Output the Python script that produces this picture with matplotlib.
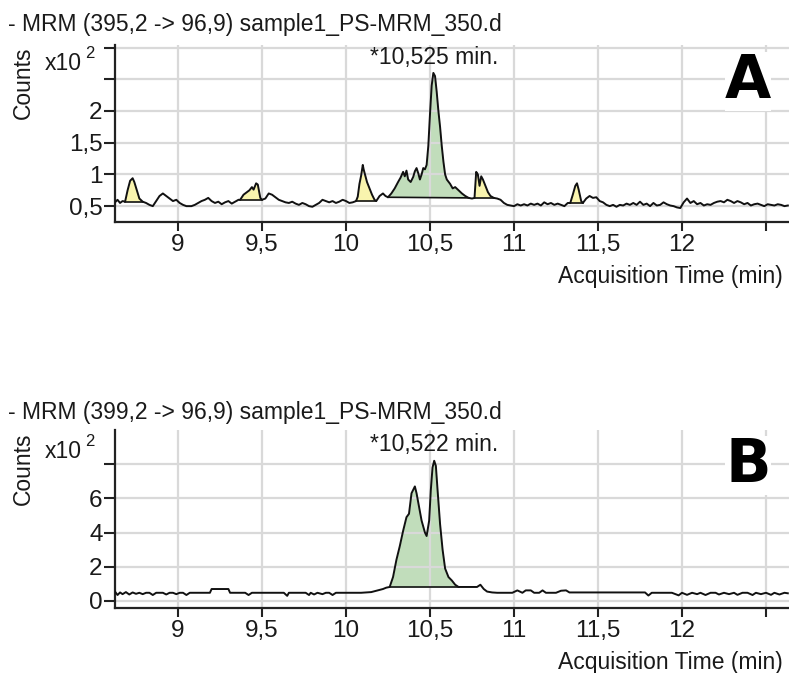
import matplotlib
matplotlib.use("Agg")
import numpy as np
import matplotlib.pyplot as plt

plt.rcParams['font.family'] = ['Liberation Sans', 'DejaVu Sans']

# ---- panel A : MRM 395,2 -> 96,9 (counts x10^2) ----
time_a = [8.625, 8.64, 8.655, 8.67, 8.685, 8.70, 8.715, 8.73, 8.74, 8.755, 8.77, 8.79,
          8.81, 8.83, 8.85, 8.87, 8.89, 8.91, 8.93, 8.95, 8.97, 8.99, 9.01, 9.03, 9.05,
          9.08, 9.10, 9.12, 9.14, 9.16, 9.18, 9.20, 9.22, 9.24, 9.26, 9.28, 9.30, 9.32,
          9.34, 9.36, 9.37, 9.39, 9.41, 9.425, 9.44, 9.45, 9.465, 9.475, 9.49, 9.50,
          9.52, 9.54, 9.56, 9.58, 9.60, 9.62, 9.64, 9.66, 9.68, 9.70, 9.72, 9.74, 9.76,
          9.78, 9.80, 9.82, 9.84, 9.86, 9.88, 9.90, 9.92, 9.94, 9.96, 9.98, 10.00, 10.02,
          10.04, 10.06, 10.07, 10.08, 10.09, 10.10, 10.105, 10.115, 10.125, 10.14, 10.155,
          10.17, 10.18, 10.20, 10.22, 10.235, 10.25, 10.27, 10.29, 10.31, 10.325, 10.34,
          10.35, 10.36, 10.37, 10.385, 10.40, 10.41, 10.42, 10.43, 10.44, 10.45, 10.46,
          10.47, 10.48, 10.49, 10.50, 10.51, 10.52, 10.53, 10.54, 10.55, 10.56, 10.57,
          10.58, 10.59, 10.60, 10.62, 10.635, 10.65, 10.67, 10.69, 10.71, 10.73, 10.75,
          10.765, 10.775, 10.785, 10.795, 10.805, 10.815, 10.83, 10.845, 10.86, 10.88,
          10.90, 10.92, 10.94, 10.96, 10.98, 11.00, 11.02, 11.04, 11.06, 11.08, 11.10,
          11.12, 11.14, 11.16, 11.18, 11.20, 11.22, 11.24, 11.26, 11.28, 11.30, 11.32,
          11.335, 11.35, 11.365, 11.375, 11.385, 11.40, 11.41, 11.43, 11.45, 11.47, 11.49,
          11.51, 11.53, 11.55, 11.57, 11.59, 11.61, 11.63, 11.65, 11.67, 11.69, 11.71,
          11.73, 11.75, 11.77, 11.79, 11.81, 11.83, 11.85, 11.87, 11.89, 11.91, 11.93,
          11.95, 11.97, 11.99, 12.01, 12.03, 12.05, 12.07, 12.09, 12.11, 12.13, 12.15,
          12.17, 12.19, 12.21, 12.23, 12.25, 12.27, 12.29, 12.31, 12.33, 12.35, 12.37,
          12.39, 12.41, 12.43, 12.45, 12.47, 12.49, 12.51, 12.53, 12.55, 12.57, 12.59,
          12.61, 12.63]
counts_a = [0.56, 0.60, 0.55, 0.58, 0.57, 0.75, 0.90, 0.94, 0.88, 0.75, 0.62, 0.57,
            0.55, 0.52, 0.50, 0.58, 0.66, 0.70, 0.66, 0.62, 0.58, 0.60, 0.55, 0.52, 0.50,
            0.50, 0.52, 0.55, 0.58, 0.60, 0.63, 0.58, 0.55, 0.57, 0.53, 0.56, 0.58, 0.54,
            0.57, 0.60, 0.60, 0.68, 0.72, 0.75, 0.80, 0.76, 0.86, 0.84, 0.63, 0.60,
            0.62, 0.70, 0.68, 0.64, 0.60, 0.58, 0.56, 0.55, 0.57, 0.54, 0.52, 0.55, 0.53,
            0.50, 0.49, 0.52, 0.55, 0.60, 0.58, 0.56, 0.58, 0.55, 0.57, 0.60, 0.58, 0.55,
            0.56, 0.58, 0.65, 0.85, 0.98, 1.15, 1.08, 0.98, 0.88, 0.78, 0.68,
            0.60, 0.58, 0.66, 0.70, 0.66, 0.64, 0.70, 0.78, 0.88, 0.95, 1.04,
            0.97, 1.06, 0.92, 0.88, 0.96, 1.05, 1.10, 1.02, 0.92, 1.00, 1.10,
            1.08, 1.15, 1.45, 1.95, 2.40, 2.60, 2.55, 2.30, 2.00, 1.75, 1.45,
            1.20, 1.00, 0.92, 0.85, 0.78, 0.80, 0.75, 0.70, 0.66, 0.63, 0.62,
            0.63, 1.04, 1.00, 0.82, 0.97, 0.92, 0.82, 0.72, 0.66, 0.63,
            0.62, 0.60, 0.55, 0.52, 0.51, 0.50, 0.53, 0.51, 0.53, 0.51, 0.54,
            0.52, 0.54, 0.51, 0.56, 0.53, 0.55, 0.52, 0.54, 0.52, 0.50, 0.55,
            0.55, 0.68, 0.82, 0.86, 0.76, 0.58, 0.55, 0.62, 0.66, 0.63, 0.64,
            0.58, 0.56, 0.52, 0.50, 0.52, 0.49, 0.52, 0.51, 0.54, 0.52, 0.55,
            0.52, 0.57, 0.52, 0.54, 0.50, 0.55, 0.51, 0.52, 0.56, 0.53, 0.51,
            0.50, 0.48, 0.47, 0.56, 0.62, 0.55, 0.58, 0.53, 0.55, 0.51, 0.53,
            0.52, 0.55, 0.57, 0.58, 0.56, 0.60, 0.58, 0.55, 0.58, 0.56, 0.53,
            0.55, 0.51, 0.53, 0.54, 0.52, 0.50, 0.53, 0.52, 0.51, 0.53, 0.52,
            0.50, 0.51]
# integrated peaks: (start, end, kind)
peaks_a = [(8.685, 8.79, 'minor'), (9.37, 9.50, 'minor'), (10.06, 10.18, 'minor'),
           (10.25, 10.73, 'main'), (10.765, 10.88, 'minor'), (11.335, 11.41, 'minor')]
label_a = "- MRM (395,2 -> 96,9) sample1_PS-MRM_350.d"
rt_a = 10.525
yticks_a = [0.5, 1, 1.5, 2, 2.5, 3]
yticklabels_a = ['0,5', '1', '1,5', '2', '', '']

# ---- panel B : MRM 399,2 -> 96,9 (counts x10^2) ----
time_b = [8.625, 8.64, 8.655, 8.67, 8.69, 8.71, 8.73, 8.75, 8.77, 8.79, 8.81, 8.83,
          8.85, 8.87, 8.89, 8.91, 8.93, 8.95, 8.97, 8.99, 9.01, 9.03, 9.05, 9.07, 9.09,
          9.11, 9.13, 9.15, 9.17, 9.19, 9.20, 9.23, 9.26, 9.30, 9.31, 9.35, 9.38, 9.40,
          9.42, 9.44, 9.47, 9.50, 9.53, 9.56, 9.60, 9.63, 9.65, 9.66, 9.70, 9.73, 9.76,
          9.78, 9.79, 9.81, 9.83, 9.86, 9.88, 9.90, 9.92, 9.94, 9.97, 10.00, 10.03,
          10.06, 10.09, 10.12, 10.15, 10.18, 10.20, 10.22, 10.24, 10.26, 10.28, 10.30,
          10.32, 10.34, 10.36, 10.375, 10.39, 10.41, 10.42, 10.435, 10.45, 10.47, 10.48,
          10.495, 10.505, 10.515, 10.525, 10.535, 10.545, 10.56, 10.575, 10.59, 10.61,
          10.63, 10.65, 10.67, 10.70, 10.73, 10.76, 10.78, 10.80, 10.82, 10.84, 10.87,
          10.90, 10.93, 10.96, 10.99, 11.02, 11.05, 11.07, 11.10, 11.12, 11.15, 11.17,
          11.19, 11.22, 11.25, 11.28, 11.31, 11.33, 11.37, 11.41, 11.45, 11.50, 11.55,
          11.60, 11.65, 11.70, 11.75, 11.78, 11.80, 11.82, 11.86, 11.90, 11.94, 11.98,
          12.00, 12.03, 12.06, 12.09, 12.11, 12.14, 12.17, 12.20, 12.22, 12.25, 12.28,
          12.31, 12.33, 12.36, 12.39, 12.42, 12.44, 12.47, 12.50, 12.53, 12.55, 12.58,
          12.61, 12.63]
counts_b = [0.55, 0.35, 0.50, 0.40, 0.52, 0.38, 0.50, 0.42, 0.48, 0.40, 0.48, 0.48,
            0.35, 0.48, 0.48, 0.48, 0.38, 0.48, 0.48, 0.40, 0.48, 0.48, 0.35, 0.48, 0.48,
            0.48, 0.48, 0.48, 0.48, 0.48, 0.70, 0.70, 0.70, 0.70, 0.48, 0.48, 0.48, 0.48,
            0.35, 0.48, 0.48, 0.48, 0.48, 0.48, 0.48, 0.48, 0.30, 0.48, 0.48, 0.48, 0.48,
            0.35, 0.48, 0.38, 0.48, 0.40, 0.48, 0.48, 0.35, 0.48, 0.48, 0.48, 0.48,
            0.48, 0.48, 0.50, 0.52, 0.60, 0.65, 0.70, 0.78, 0.82, 1.40, 2.40,
            3.20, 4.10, 4.90, 5.10, 6.30, 6.70, 6.30, 5.50, 4.70, 4.00, 3.80,
            4.70, 6.50, 7.80, 8.20, 7.90, 6.50, 4.50, 3.00, 1.90, 1.40,
            1.20, 0.95, 0.82, 0.82, 0.82, 0.82, 0.82, 0.95, 0.70, 0.55, 0.50,
            0.48, 0.48, 0.48, 0.48, 0.62, 0.48, 0.62, 0.62, 0.48, 0.48, 0.62,
            0.48, 0.48, 0.48, 0.60, 0.62, 0.50, 0.50, 0.50, 0.50, 0.50, 0.50,
            0.50, 0.50, 0.50, 0.50, 0.50, 0.32, 0.48, 0.48, 0.48, 0.48, 0.33,
            0.48, 0.36, 0.48, 0.40, 0.48, 0.35, 0.48, 0.48, 0.38, 0.48, 0.40,
            0.48, 0.36, 0.48, 0.48, 0.35, 0.48, 0.40, 0.48, 0.36, 0.48, 0.38,
            0.48, 0.45]
peaks_b = [(10.26, 10.67, 'main')]
label_b = "- MRM (399,2 -> 96,9) sample1_PS-MRM_350.d"
rt_b = 10.522
yticks_b = [0, 2, 4, 6, 8]
yticklabels_b = ['0', '2', '4', '6', '']

xticks = [9, 9.5, 10, 10.5, 11, 11.5, 12, 12.5]
xticklabels = ['9', '9,5', '10', '10,5', '11', '11,5', '12', '']

FILL = {'main': '#b6d8b0', 'minor': '#f8f3a0'}
TXT = '#1a1a1a'
W, H = 789, 673


def draw_panel(fig, box, t, c, peaks, title, rt, ylim, yticks, yticklabels, letter, px):
    ax = fig.add_axes(box)
    t = np.array(t)
    c = np.array(c)
    for t0, t1, kind in peaks:
        m = (t >= t0 - 1e-9) & (t <= t1 + 1e-9)
        tt, cc = t[m], c[m]
        base = np.interp(tt, [tt[0], tt[-1]], [cc[0], cc[-1]])
        ax.fill_between(tt, cc, base, color=FILL[kind], alpha=0.85, lw=0)
        ax.plot([tt[0], tt[-1]], [cc[0], cc[-1]], color='#111111', lw=1.2, zorder=2)
    ax.plot(t, c, color='#111111', lw=1.4, zorder=3)

    ax.set_xlim(8.625, 12.637)
    ax.set_ylim(*ylim)
    ax.set_xticks(xticks)
    ax.set_xticklabels(xticklabels)
    ax.set_yticks(yticks)
    ax.set_yticklabels(yticklabels)
    ax.grid(True, color='#d9d9d9', lw=1.6)
    for s in ['top', 'right']:
        ax.spines[s].set_visible(False)
    for s in ['left', 'bottom']:
        ax.spines[s].set_color('#222222')
        ax.spines[s].set_linewidth(1.6)
    ax.tick_params(axis='x', length=6.5, width=1.5, color='#222222', pad=2,
                   labelsize=17.5, labelcolor=TXT)
    ax.tick_params(axis='y', length=8, width=1.5, color='#222222', pad=1,
                   labelsize=17.5, labelcolor=TXT)

    ax.text(rt, px['rt_y'], '*%s min.' % f'{rt:.3f}'.replace('.', ','),
            transform=ax.get_xaxis_transform(), ha='center', va='center',
            fontsize=16.5, color=TXT)
    ax.text(748 / W, 1 - px['letter_y'] / H, letter, transform=fig.transFigure,
            ha='center', va='center', fontsize=43, fontweight='bold',
            family='DejaVu Sans', color='black', zorder=10,
            bbox=dict(facecolor='white', edgecolor='none', pad=0))

    fig.text(8 / W, 1 - px['title_y'] / H, title, ha='left', va='center',
             fontsize=16.5, color=TXT)
    fig.text(23 / W, 1 - px['counts_y'] / H, 'Counts', rotation=90,
             ha='center', va='center', fontsize=16.5, color=TXT)
    fig.text(63 / W, 1 - px['x10_y'] / H, 'x10', ha='center', va='center',
             fontsize=16.5, color=TXT)
    fig.text(90 / W, 1 - (px['x10_y'] - 10) / H, '2', ha='center', va='center',
             fontsize=12, color=TXT)
    fig.text(783 / W, 1 - px['xlabel_y'] / H, 'Acquisition Time (min)',
             ha='right', va='center', fontsize=16.5, color=TXT)
    return ax


fig = plt.figure(figsize=(W / 100, H / 100), dpi=100)

draw_panel(fig, [115 / W, 1 - 222 / H, (W - 115) / W, 177 / H],
           time_a, counts_a, peaks_a, label_a, rt_a, (0.25, 3.04),
           yticks_a, yticklabels_a, 'A',
           dict(rt_y=0.93, letter_y=81, title_y=24, counts_y=83, x10_y=64, xlabel_y=277))

draw_panel(fig, [115 / W, 1 - 608 / H, (W - 115) / W, 178 / H],
           time_b, counts_b, peaks_b, label_b, rt_b, (-0.41, 10.0),
           yticks_b, yticklabels_b, 'B',
           dict(rt_y=0.92, letter_y=465, title_y=413, counts_y=469, x10_y=451, xlabel_y=662))

fig.savefig('out.png', dpi=100)
